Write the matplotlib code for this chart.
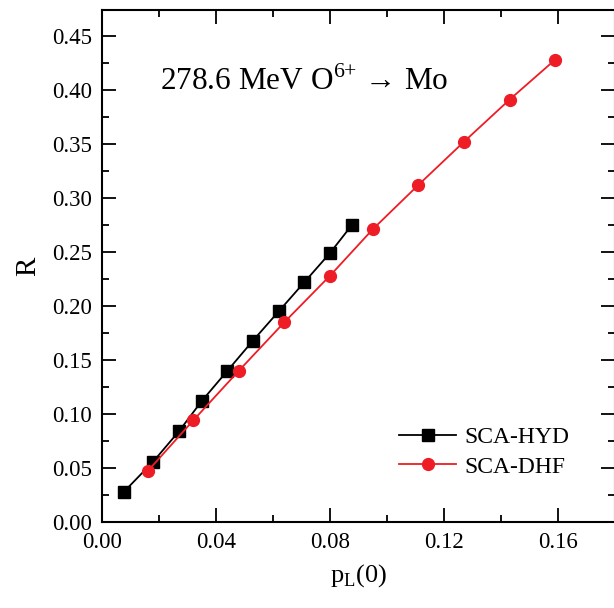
import matplotlib
matplotlib.use("Agg")
import matplotlib.pyplot as plt
from matplotlib.ticker import MultipleLocator

plt.rcParams['font.family'] = ['Liberation Serif', 'DejaVu Serif']
plt.rcParams['mathtext.fontset'] = 'custom'
plt.rcParams['mathtext.rm'] = 'Liberation Serif'

hyd_x = [0.0077, 0.0180, 0.0270, 0.0350, 0.0440, 0.0530, 0.0620, 0.0710, 0.0800, 0.0877]
hyd_y = [0.028, 0.056, 0.084, 0.112, 0.140, 0.168, 0.195, 0.222, 0.249, 0.275]
dhf_x = [0.0160, 0.0320, 0.0480, 0.0640, 0.0800, 0.0950, 0.1110, 0.1270, 0.1430, 0.1590]
dhf_y = [0.047, 0.094, 0.140, 0.185, 0.228, 0.271, 0.312, 0.352, 0.391, 0.428]

fig = plt.figure(figsize=(6.14, 6.08), dpi=100)
ax = fig.add_axes([102/614, 86/608, 513/614, 512/608])

ax.plot(hyd_x, hyd_y, color='black', marker='s', markersize=8, lw=1.3, label='SCA-HYD')
ax.plot(dhf_x, dhf_y, color='#ee1c25', marker='o', markersize=8.5, lw=1.3, label='SCA-DHF')

ax.set_xlim(0, 0.18)
ax.set_ylim(0, 0.474)
ax.xaxis.set_major_locator(MultipleLocator(0.04))
ax.xaxis.set_minor_locator(MultipleLocator(0.02))
ax.yaxis.set_major_locator(MultipleLocator(0.05))
ax.yaxis.set_minor_locator(MultipleLocator(0.025))
ax.xaxis.set_major_formatter(plt.FuncFormatter(lambda v, p: f"{v:.2f}"))
ax.yaxis.set_major_formatter(plt.FuncFormatter(lambda v, p: f"{v:.2f}"))
ax.tick_params(which='both', direction='in', top=True, right=True, labelsize=16.5, width=1.3, pad=7)
ax.tick_params(which='major', length=10)
ax.tick_params(which='minor', length=5)
for s in ax.spines.values():
    s.set_linewidth(1.5)

ax.set_xlabel(r'p$_{\mathrm{L}}$(0)', fontsize=19, labelpad=7)
ax.set_ylabel('R', fontsize=21, labelpad=8)

ax.text(160/614, 1 - 90/608, r'278.6 MeV O$^{6{+}}$ → Mo', transform=fig.transFigure,
        fontsize=22.5, ha='left', va='baseline')

ax.legend(loc='lower right', bbox_to_anchor=(0.952, 0.045), frameon=False, fontsize=17,
          handlelength=2.4, handletextpad=0.35, labelspacing=0.35)

fig.savefig('out.png', dpi=100)
